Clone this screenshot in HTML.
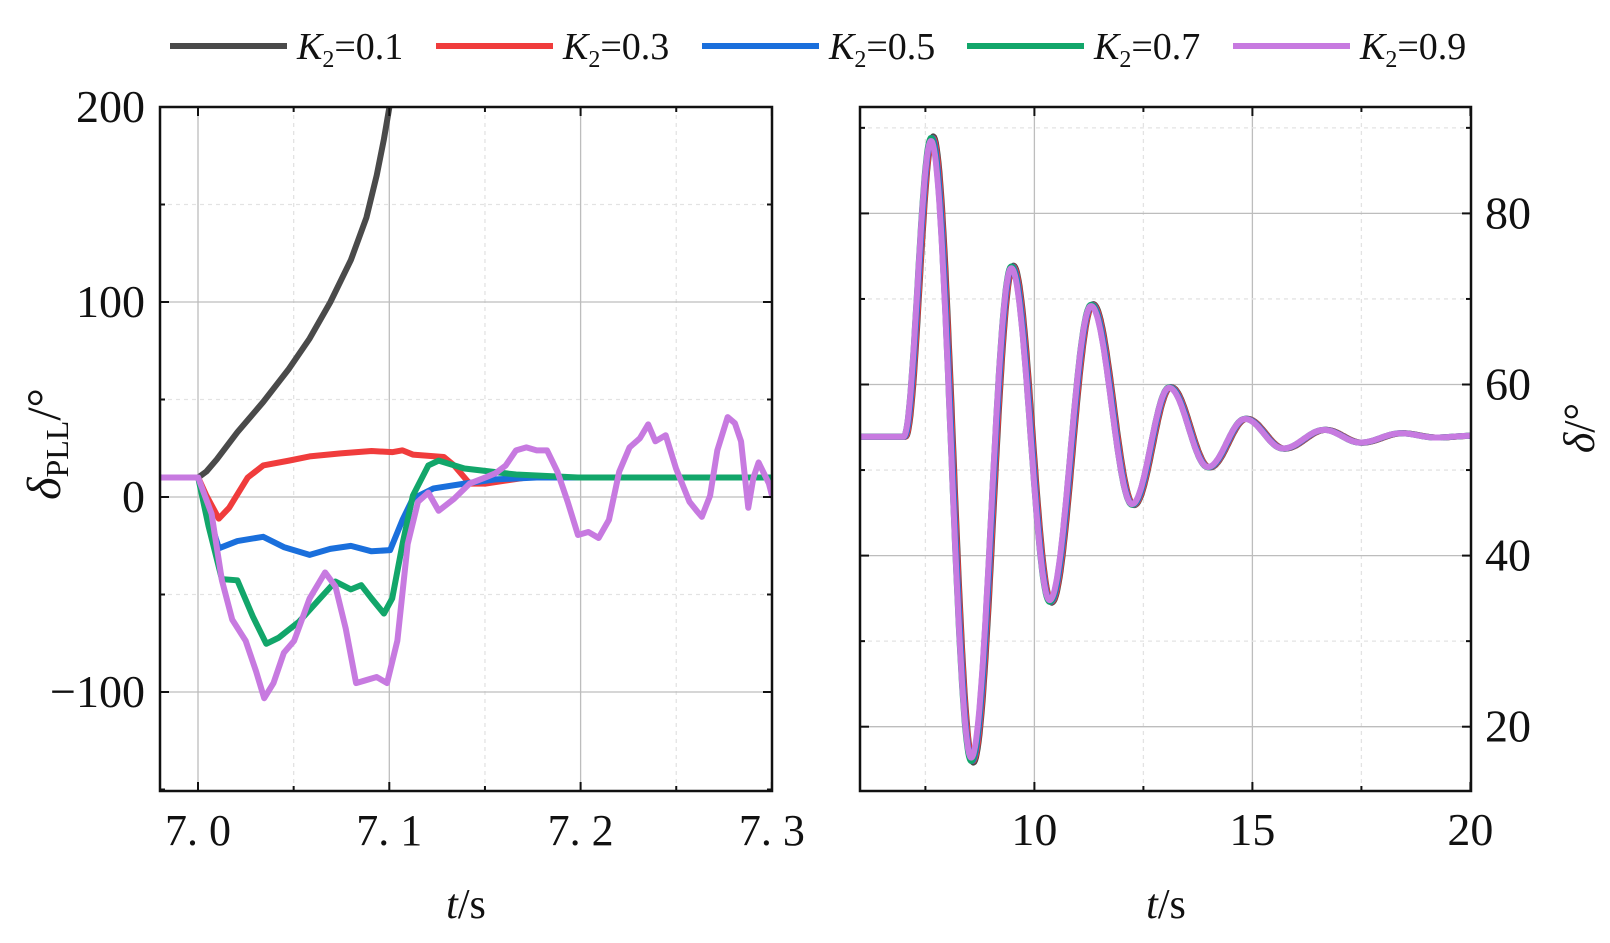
<!DOCTYPE html>
<html><head><meta charset="utf-8"><style>
html,body{margin:0;padding:0;background:#fff;}
svg{display:block;font-family:"Liberation Serif",serif;}
</style></head><body>
<svg id="s" width="1610" height="943" xmlns="http://www.w3.org/2000/svg">
<defs>
<clipPath id="cl"><rect x="160" y="107" width="612" height="684"/></clipPath>
<clipPath id="cr"><rect x="860" y="107" width="611" height="684"/></clipPath>
</defs>
<g id="grid"></g>
<g clip-path="url(#cl)">
<g transform="scale(1.0321,0.6045)" fill="none" stroke-width="6" stroke-linejoin="round" stroke-linecap="round">
<polyline vector-effect="non-scaling-stroke" stroke="#4a4a4a" points="157,790 192,790 200,780 210,760 230,715 255,665 280,610 300,560 320,500 340,430 355,360 365,290 372,230 378,170"/>
<polyline vector-effect="non-scaling-stroke" stroke="#f03c3c" points="157,790 192,790 200,820 212,858 222,840 240,790 255,770 280,762 300,755 330,750 360,746 380,748 390,745 400,752 430,756 440,770 455,800 470,800 490,795 510,790 748,790"/>
<polyline vector-effect="non-scaling-stroke" stroke="#1a6fdc" points="157,790 192,790 200,840 212,907 230,895 255,888 275,905 300,918 320,908 340,903 360,912 378,910 390,860 400,825 420,808 450,800 480,793 520,790 748,790"/>
<polyline vector-effect="non-scaling-stroke" stroke="#12a66a" points="157,790 192,790 202,870 215,958 230,960 245,1020 258,1065 270,1055 290,1028 310,990 325,962 340,975 350,968 360,990 372,1015 380,990 390,900 400,820 415,770 425,762 450,775 500,785 560,790 748,790"/>
<polyline vector-effect="non-scaling-stroke" stroke="#c77ae0" points="157,790 192,790 205,850 215,960 225,1025 238,1060 248,1110 256,1155 265,1130 275,1080 285,1060 300,990 315,947 325,970 335,1040 345,1130 355,1125 365,1120 375,1130 385,1060 395,900 405,830 415,815 425,845 440,825 455,800 470,790 480,783 490,770 500,745 510,740 520,745 530,745 540,780 550,830 560,885 570,880 580,890 590,860 600,780 610,740 620,725 628,702 635,730 645,720 655,775 668,830 675,845 680,855 688,820 695,745 705,690 712,700 718,730 725,840 730,790 735,765 745,800 748,820"/>
</g></g>
<g id="right" clip-path="url(#cr)" fill="none" stroke-width="6" stroke-linejoin="round"></g>
<g id="axes"></g>
<g font-size="38" fill="#111">
<line x1="170" y1="46" x2="287" y2="46" stroke="#4a4a4a" stroke-width="6"/>
<text x="297" y="59"><tspan font-style="italic">K</tspan><tspan font-size="24" dy="8">2</tspan><tspan dy="-8">=0.1</tspan></text>
<line x1="436" y1="46" x2="553" y2="46" stroke="#f03c3c" stroke-width="6"/>
<text x="563" y="59"><tspan font-style="italic">K</tspan><tspan font-size="24" dy="8">2</tspan><tspan dy="-8">=0.3</tspan></text>
<line x1="702" y1="46" x2="819" y2="46" stroke="#1a6fdc" stroke-width="6"/>
<text x="829" y="59"><tspan font-style="italic">K</tspan><tspan font-size="24" dy="8">2</tspan><tspan dy="-8">=0.5</tspan></text>
<line x1="967" y1="46" x2="1084" y2="46" stroke="#12a66a" stroke-width="6"/>
<text x="1094" y="59"><tspan font-style="italic">K</tspan><tspan font-size="24" dy="8">2</tspan><tspan dy="-8">=0.7</tspan></text>
<line x1="1233" y1="46" x2="1350" y2="46" stroke="#c77ae0" stroke-width="6"/>
<text x="1360" y="59"><tspan font-style="italic">K</tspan><tspan font-size="24" dy="8">2</tspan><tspan dy="-8">=0.9</tspan></text>
</g>
<text x="466" y="918" font-size="42" text-anchor="middle" fill="#111"><tspan font-style="italic">t</tspan>/s</text>
<text x="1166" y="918" font-size="42" text-anchor="middle" fill="#111"><tspan font-style="italic">t</tspan>/s</text>
<text transform="translate(60,444) rotate(-90)" font-size="48" text-anchor="middle" fill="#111"><tspan font-style="italic">δ</tspan><tspan font-size="32" dy="8">PLL</tspan><tspan dy="-8">/°</tspan></text>
<text transform="translate(1594,428) rotate(-90)" font-size="44" text-anchor="middle" fill="#111"><tspan font-style="italic">δ</tspan>/°</text>
</svg>
<script>
var NS="http://www.w3.org/2000/svg";
function el(p,t,a){var e=document.createElementNS(NS,t);for(var k in a)e.setAttribute(k,a[k]);p.appendChild(e);return e;}
var grid=document.getElementById('grid'),axes=document.getElementById('axes'),right=document.getElementById('right');
function lx(t){return 198+(t-7)*1913;} function ly(v){return 497-1.95*v;}
function rx(t){return 860+(t-6)*43.6;} function ry(v){return 384.5-(v-60)*8.555;}
var L={x0:160,x1:772,y0:107,y1:791},R={x0:860,x1:1471,y0:107,y1:791};
for(var t=7.0;t<=7.31;t+=0.05){var x=lx(t),maj=Math.abs(Math.round(t*10)-t*10)<1e-6;
 el(grid,'line',{x1:x,x2:x,y1:L.y0,y2:L.y1,stroke:maj?'#bdbdbd':'#e3e3e3','stroke-width':1.3,'stroke-dasharray':maj?'':'4,4'});
 el(axes,'line',{x1:x,x2:x,y1:L.y1,y2:L.y1-(maj?9:5),stroke:'#111','stroke-width':2});
 el(axes,'line',{x1:x,x2:x,y1:L.y0,y2:L.y0+(maj?9:5),stroke:'#111','stroke-width':2});
 if(maj){var tx=el(axes,'text',{x:x,y:845,'font-size':44,'text-anchor':'middle',fill:'#111'});tx.textContent=t.toFixed(1).replace('.','. ');}}
for(var v=-150;v<=200;v+=50){var y=ly(v),maj=v%100==0;
 if(v>-150&&v<200)el(grid,'line',{x1:L.x0,x2:L.x1,y1:y,y2:y,stroke:maj?'#bdbdbd':'#e3e3e3','stroke-width':1.3,'stroke-dasharray':maj?'':'4,4'});
 el(axes,'line',{x1:L.x0,x2:L.x0+(maj?9:5),y1:y,y2:y,stroke:'#111','stroke-width':2});
 el(axes,'line',{x1:L.x1,x2:L.x1-(maj?9:5),y1:y,y2:y,stroke:'#111','stroke-width':2});
 if(maj){var tx=el(axes,'text',{x:145,y:y+15,'font-size':46,'text-anchor':'end',fill:'#111'});tx.textContent=(v<0?'\u2212':'')+Math.abs(v);}}
for(var t=7.5;t<=20.01;t+=2.5){var x=rx(t),maj=t%5==0;
 if(t<20)el(grid,'line',{x1:x,x2:x,y1:R.y0,y2:R.y1,stroke:maj?'#bdbdbd':'#e3e3e3','stroke-width':1.3,'stroke-dasharray':maj?'':'4,4'});
 el(axes,'line',{x1:x,x2:x,y1:R.y1,y2:R.y1-(maj?9:5),stroke:'#111','stroke-width':2});
 el(axes,'line',{x1:x,x2:x,y1:R.y0,y2:R.y0+(maj?9:5),stroke:'#111','stroke-width':2});
 if(maj){var tx=el(axes,'text',{x:x,y:845,'font-size':46,'text-anchor':'middle',fill:'#111'});tx.textContent=t;}}
for(var v=20;v<=90;v+=10){var y=ry(v),maj=v%20==0;
 el(grid,'line',{x1:R.x0,x2:R.x1,y1:y,y2:y,stroke:maj?'#bdbdbd':'#e3e3e3','stroke-width':1.3,'stroke-dasharray':maj?'':'4,4'});
 el(axes,'line',{x1:R.x0,x2:R.x0+(maj?9:5),y1:y,y2:y,stroke:'#111','stroke-width':2});
 el(axes,'line',{x1:R.x1,x2:R.x1-(maj?9:5),y1:y,y2:y,stroke:'#111','stroke-width':2});
 if(maj){var tx=el(axes,'text',{x:1485,y:y+15,'font-size':46,fill:'#111'});tx.textContent=v;}}
el(axes,'rect',{x:L.x0,y:L.y0,width:L.x1-L.x0,height:L.y1-L.y0,fill:'none',stroke:'#111','stroke-width':2.5});
el(axes,'rect',{x:R.x0,y:R.y0,width:R.x1-R.x0,height:R.y1-R.y0,fill:'none',stroke:'#111','stroke-width':2.5});
var ext=[[6,53.9],[7.0,53.9],[7.63,89],[8.55,15.8],[9.47,73.9],[10.35,34.5],[11.3,69.4],[12.24,45.9],[13.09,59.7],[13.98,50.3],[14.83,56.0],[15.7,52.5],[16.64,54.7],[17.47,53.2],[18.4,54.3],[19.2,53.8],[20,54.0]];
function val(t){if(t<=7.0)return 53.9;for(var i=1;i<ext.length;i++){if(t<=ext[i][0]){var a=ext[i-1],b=ext[i],u=(t-a[0])/(b[0]-a[0]);u=(1-Math.cos(Math.PI*u))/2;return a[1]+(b[1]-a[1])*u;}}return 54;}
var ser=[['#4a4a4a',0.05,1.0],['#f03c3c',0.04,0.995],['#1a6fdc',0.02,0.995],['#12a66a',0.0,0.995],['#c77ae0',0.0,0.985]];
ser.forEach(function(s){var pts=[];for(var t=6;t<=20.001;t+=0.02){var tt=t-s[1];var v=val(tt);v=54+(v-54)*s[2];pts.push(rx(t).toFixed(1)+','+ry(v).toFixed(1));}
 el(right,'polyline',{points:pts.join(' '),stroke:s[0]});});
</script>
</body></html>
